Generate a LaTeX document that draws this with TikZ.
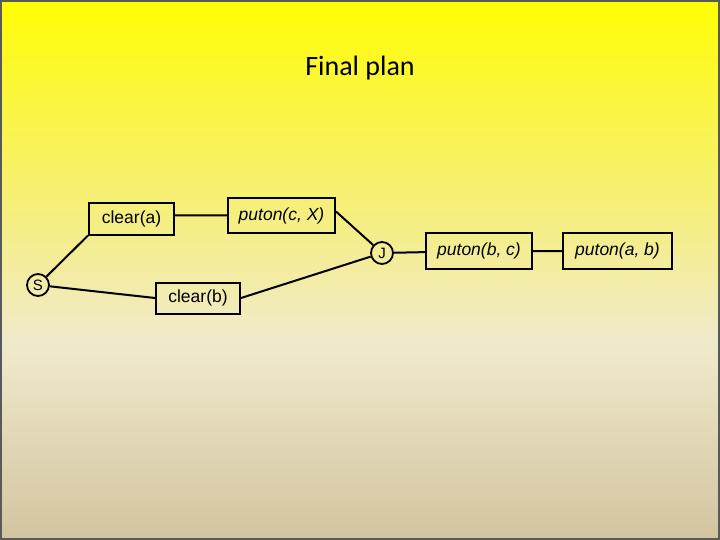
\documentclass[tikz,border=0pt]{standalone}
\usepackage{fontspec}
\setmainfont{Liberation Sans}
\newfontfamily\titlefont{Carlito}
\definecolor{SlideTop}{RGB}{255,255,0}
\definecolor{SlideHigh}{RGB}{252,248,40}
\definecolor{SlideMid}{RGB}{245,238,130}
\definecolor{SlideLow}{RGB}{240,234,204}
\definecolor{SlideBottom}{RGB}{210,196,160}
\begin{document}
\begin{tikzpicture}
    [x=1pt,y=-1pt,
    act/.style={draw,line width=2pt,minimum height=31pt,inner xsep=4pt,font=\fontsize{17.5}{20}\selectfont},
    pnode/.style={circle,draw,line width=1.8pt,minimum size=22pt,inner sep=0pt,font=\fontsize{15}{18}\selectfont},
    link/.style={line width=2pt},
    ]
    % background bands
    \shade[top color=SlideTop,bottom color=SlideHigh] (0,0) rectangle (720,60);
    \shade[top color=SlideHigh,bottom color=SlideMid] (0,60) rectangle (720,220);
    \shade[top color=SlideMid,bottom color=SlideLow] (0,220) rectangle (720,340);
    \shade[top color=SlideLow,bottom color=SlideBottom] (0,340) rectangle (720,540);
    \useasboundingbox (0,0) rectangle (720,540);
    \draw[black!65,line width=2pt] (1,1) rectangle (719,539);
    \node[font=\titlefont\fontsize{28}{32}\selectfont] (title) at (360,68) {Final plan};
    \node[pnode] (S) at (38,285) {S};
    \node[pnode] (J) at (382,253) {J};
    \node[act,minimum width=85pt] (cla) at (131.5,219) {clear(a)};
    \node[act,minimum width=107pt,minimum height=35pt] (pcX) at (281.5,215.5) {\itshape puton(c, X)};
    \node[act,minimum width=84pt] (clb) at (198,298) {clear(b)};
    \node[act,minimum width=106pt,minimum height=36pt] (pbc) at (479,251) {\itshape puton(b, c)};
    \node[act,minimum width=109pt,minimum height=36pt] (pab) at (617.5,251) {\itshape puton(a, b)};
    \draw[link] (S) -- (cla.south west) (cla.east |- pcX) -- (pcX.west) (pcX.east) ++(0,-4) -- (J)
    (S) -- (clb.west) (clb.east) -- (J) (J) -- (pbc) (pbc) -- (pab);
  \end{tikzpicture}
\end{document}
